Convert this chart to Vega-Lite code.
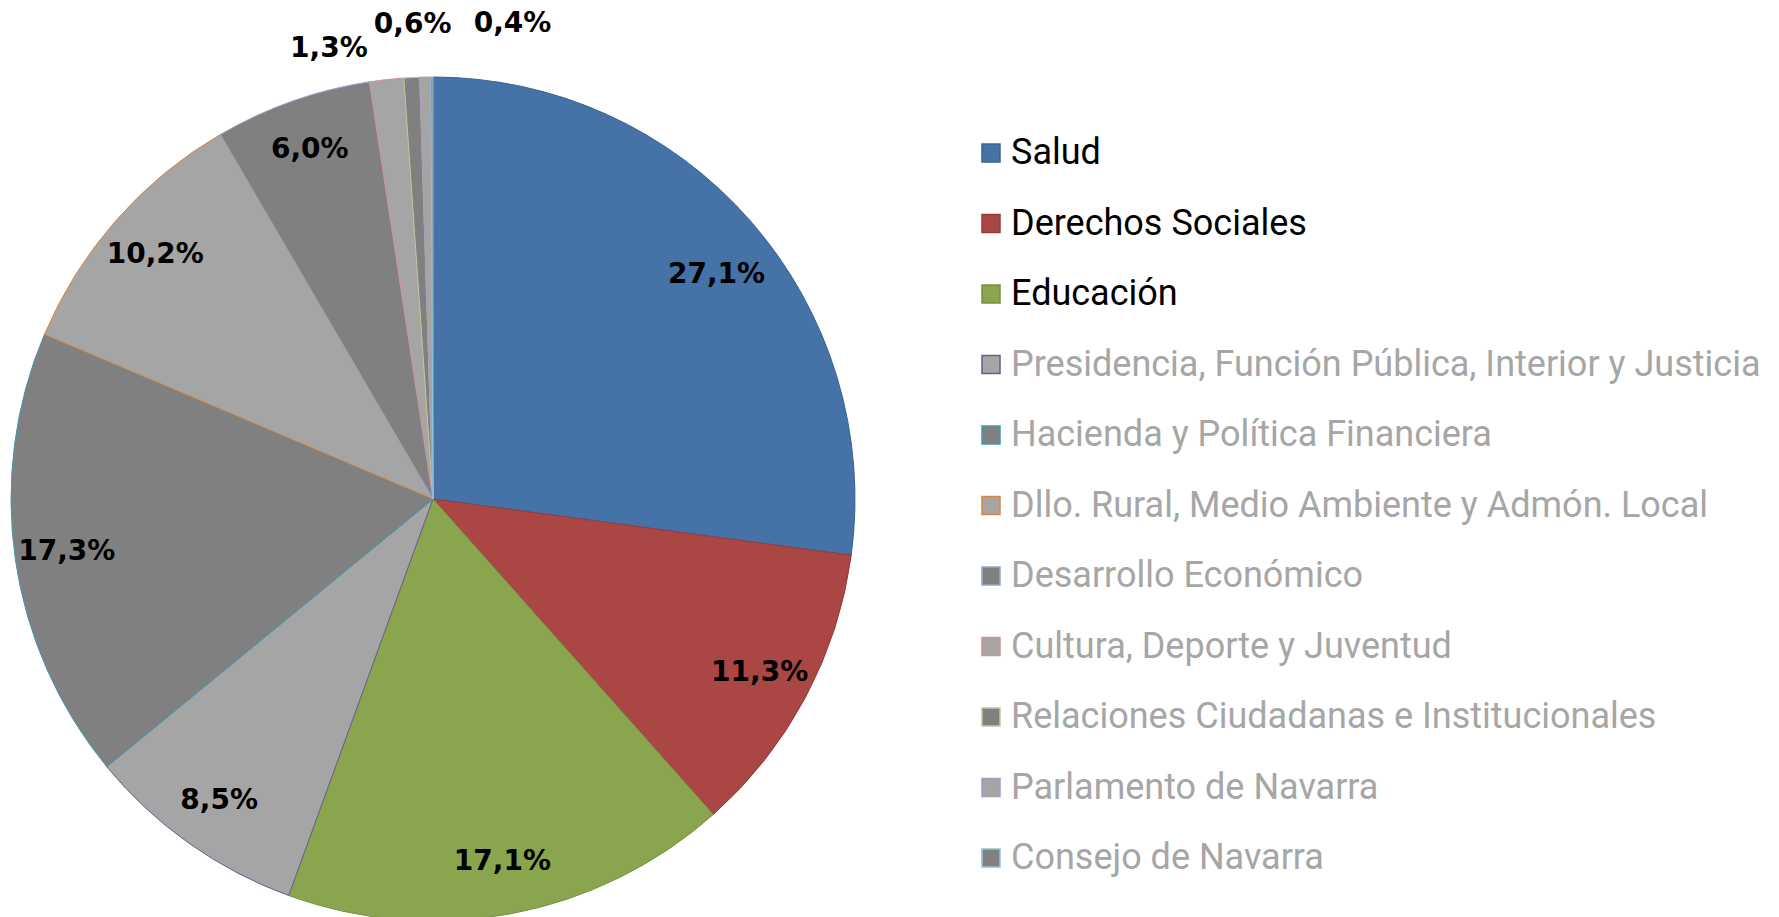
{
  "$schema": "https://vega.github.io/schema/vega-lite/v6.json",
  "width": 844,
  "height": 844,
  "autosize": {"type": "none"},
  "padding": {"left": 11, "top": 77, "right": 924, "bottom": 0},
  "background": "white",
  "config": {
    "view": {"stroke": null},
    "locale": {"number": {"decimal": ",", "thousands": ".", "grouping": [3], "currency": ["", " €"]}}
  },
  "data": {
    "values": [
      {"idx": 1, "name": "Salud", "value": 0.271},
      {"idx": 2, "name": "Derechos Sociales", "value": 0.113},
      {"idx": 3, "name": "Educación", "value": 0.171},
      {"idx": 4, "name": "Presidencia, Función Pública, Interior y Justicia", "value": 0.085},
      {"idx": 5, "name": "Hacienda y Política Financiera", "value": 0.173},
      {"idx": 6, "name": "Dllo. Rural, Medio Ambiente y Admón. Local", "value": 0.102},
      {"idx": 7, "name": "Desarrollo Económico", "value": 0.060},
      {"idx": 8, "name": "Cultura, Deporte y Juventud", "value": 0.013},
      {"idx": 9, "name": "Relaciones Ciudadanas e Institucionales", "value": 0.006},
      {"idx": 10, "name": "Parlamento de Navarra", "value": 0.0042},
      {"idx": 11, "name": "Consejo de Navarra", "value": 0.0008}
    ]
  },
  "encoding": {
    "theta": {"field": "value", "type": "quantitative", "stack": true},
    "order": {"field": "idx", "type": "quantitative"}
  },
  "layer": [
    {
      "mark": {"type": "arc", "strokeWidth": 1},
      "encoding": {
        "color": {
          "field": "name", "type": "nominal", "title": null,
          "scale": {
            "domain": ["Salud", "Derechos Sociales", "Educación", "Presidencia, Función Pública, Interior y Justicia", "Hacienda y Política Financiera", "Dllo. Rural, Medio Ambiente y Admón. Local", "Desarrollo Económico", "Cultura, Deporte y Juventud", "Relaciones Ciudadanas e Institucionales", "Parlamento de Navarra", "Consejo de Navarra"],
            "range": ["#4572A7", "#AA4643", "#89A54E", "#A5A5A5", "#808080", "#A5A5A5", "#808080", "#A5A5A5", "#808080", "#A5A5A5", "#808080"]
          },
          "legend": {
            "orient": "none",
            "legendX": 962,
            "legendY": 58,
            "padding": 0,
            "symbolType": "square",
            "symbolSize": 324,
            "symbolStrokeWidth": 1.5,
            "labelFont": "Roboto",
            "labelFontSize": 36,
            "labelOffset": 2,
            "labelLimit": 1000,
            "rowPadding": 34.5,
            "encode": {
              "labels": {"update": {"fill": {"signal": "indexof(['Salud','Derechos Sociales','Educación'], datum.value) >= 0 ? '#000000' : '#A6A6A6'"}}}
            }
          }
        },
        "stroke": {
          "field": "name", "type": "nominal", "title": null,
          "scale": {
            "domain": ["Salud", "Derechos Sociales", "Educación", "Presidencia, Función Pública, Interior y Justicia", "Hacienda y Política Financiera", "Dllo. Rural, Medio Ambiente y Admón. Local", "Desarrollo Económico", "Cultura, Deporte y Juventud", "Relaciones Ciudadanas e Institucionales", "Parlamento de Navarra", "Consejo de Navarra"],
            "range": ["#3B6391", "#943C3A", "#779043", "#71588F", "#4198AF", "#DB843D", "#93A9CF", "#D19392", "#B9CD96", "#A99BBD", "#91C3D5"]
          },
          "legend": {
            "orient": "none",
            "legendX": 962,
            "legendY": 58,
            "padding": 0,
            "symbolType": "square",
            "symbolSize": 324,
            "symbolStrokeWidth": 1.5,
            "labelFont": "Roboto",
            "labelFontSize": 36,
            "labelOffset": 2,
            "labelLimit": 1000,
            "rowPadding": 34.5,
            "encode": {
              "labels": {"update": {"fill": {"signal": "indexof(['Salud','Derechos Sociales','Educación'], datum.value) >= 0 ? '#000000' : '#A6A6A6'"}}}
            }
          }
        }
      }
    },
    {
      "mark": {"type": "text", "radius": 370, "font": "DejaVu Sans", "fontWeight": "bold", "fontSize": 28, "fill": "#000000"},
      "encoding": {
        "text": {"condition": {"test": "datum.idx >= 2 && datum.idx <= 7", "field": "value", "type": "quantitative", "format": ".1%"}, "value": ""}
      }
    },
    {
      "mark": {"type": "text", "radius": 370, "dx": 5, "dy": 20, "font": "DejaVu Sans", "fontWeight": "bold", "fontSize": 28, "fill": "#000000"},
      "encoding": {
        "text": {"condition": {"test": "datum.idx == 1", "field": "value", "type": "quantitative", "format": ".1%"}, "value": ""}
      }
    },
    {
      "mark": {"type": "text", "radius": 465, "dx": -53, "dy": 12, "font": "DejaVu Sans", "fontWeight": "bold", "fontSize": 28, "fill": "#000000"},
      "encoding": {
        "text": {"condition": {"test": "datum.idx == 8", "field": "value", "type": "quantitative", "format": ".1%"}, "value": ""}
      }
    },
    {
      "mark": {"type": "text", "radius": 465, "dx": 3, "dy": -10, "font": "DejaVu Sans", "fontWeight": "bold", "fontSize": 28, "fill": "#000000"},
      "encoding": {
        "text": {"condition": {"test": "datum.idx == 9", "field": "value", "type": "quantitative", "format": ".1%"}, "value": ""}
      }
    },
    {
      "mark": {"type": "text", "radius": 465, "dx": 88, "dy": -10, "font": "DejaVu Sans", "fontWeight": "bold", "fontSize": 28, "fill": "#000000"},
      "encoding": {
        "text": {"condition": {"test": "datum.idx == 10", "field": "value", "type": "quantitative", "format": ".1%"}, "value": ""}
      }
    }
  ]
}
